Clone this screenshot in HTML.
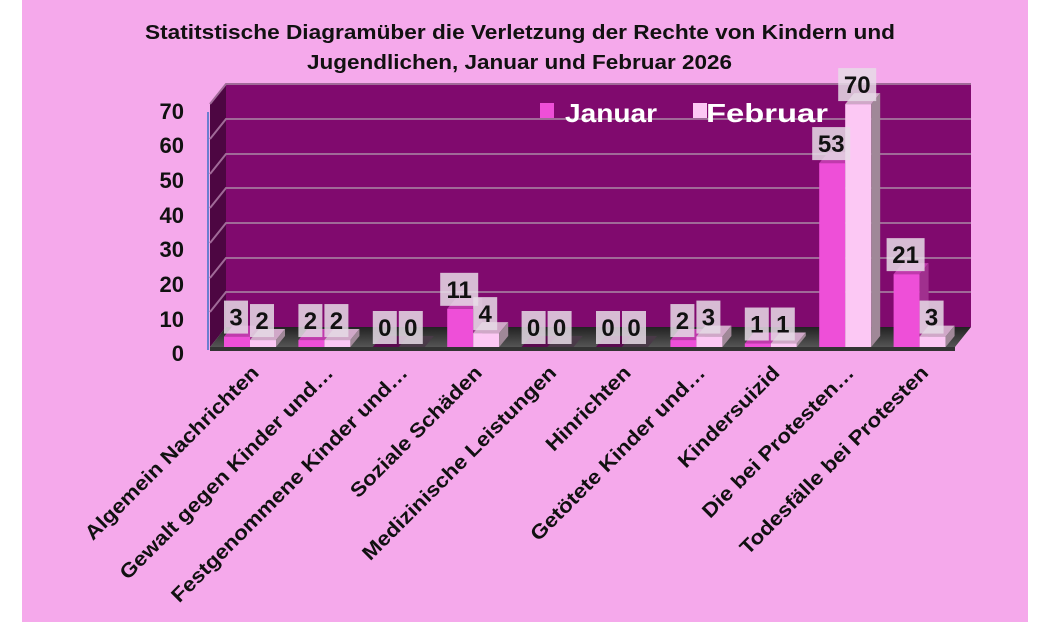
<!DOCTYPE html>
<html><head><meta charset="utf-8"><style>
html,body{margin:0;padding:0;background:#fff}
svg{display:block}
text{font-family:"Liberation Sans",sans-serif;font-weight:bold}
</style></head><body>
<svg width="1046" height="632" viewBox="0 0 1046 632">
<defs>
<linearGradient id="fl" x1="0" y1="0" x2="0" y2="1"><stop offset="0" stop-color="#222"/><stop offset="1" stop-color="#555"/></linearGradient>
</defs>
<rect x="0" y="0" width="1046" height="632" fill="#fff"/>
<rect x="22" y="0" width="1006" height="622" fill="#f5a9eb"/>
<text x="145" y="39" font-size="20" textLength="750" lengthAdjust="spacingAndGlyphs" fill="#111">Statitstische Diagramüber die Verletzung der Rechte von Kindern und</text>
<text x="307" y="69" font-size="20" textLength="425" lengthAdjust="spacingAndGlyphs" fill="#111">Jugendlichen, Januar und Februar 2026</text>
<!-- walls -->
<polygon points="226,84 971,84 971,327 226,327" fill="#800a6e"/>
<polygon points="210,104 226,84 226,327 210,347" fill="#4d0642"/>
<g stroke="#a06a98" stroke-width="2" fill="none">
<polyline points="210,312 226,292 971,292"/>
<polyline points="210,278 226,258 971,258"/>
<polyline points="210,243 226,223 971,223"/>
<polyline points="210,208 226,188 971,188"/>
<polyline points="210,174 226,154 971,154"/>
<polyline points="210,139 226,119 971,119"/>
<polyline points="210,104 226,84 971,84"/>
</g>
<line x1="208" y1="112" x2="208" y2="350" stroke="#6a7fd0" stroke-width="2"/>
<!-- floor -->
<polygon points="210,347 226,327 971,327 955,347" fill="url(#fl)"/>
<polygon points="210,347 955,347 955,351 210,351" fill="#333"/>
<!-- y labels -->
<g font-size="22" text-anchor="end" fill="#111">
<text x="184" y="361">0</text><text x="184" y="327">10</text><text x="184" y="292">20</text><text x="184" y="257">30</text><text x="184" y="223">40</text><text x="184" y="188">50</text><text x="184" y="153">60</text><text x="184" y="119">70</text>
</g>
<!-- legend -->
<rect x="540" y="103" width="14" height="15" fill="#ee4fd8"/>
<text x="565" y="122" font-size="26" textLength="92" lengthAdjust="spacingAndGlyphs" fill="#fff">Januar</text>
<rect x="693" y="103" width="14" height="15" fill="#fcc8f4"/>
<text x="706" y="122" font-size="26" textLength="122" lengthAdjust="spacingAndGlyphs" fill="#fff">Februar</text>
<g id="bars"></g>
<g id="labels"></g>
<g id="cats" font-size="20" fill="#111"></g>
</svg>
<script>
var jan=[3,2,0,11,0,0,2,1,53,21],feb=[2,2,0,4,0,0,3,1,70,3];
var cats=["Algemein Nachrichten","Gewalt gegen Kinder und…","Festgenommene Kinder und…","Soziale Schäden","Medizinische Leistungen","Hinrichten","Getötete Kinder und…","Kindersuizid","Die bei Protesten…","Todesfälle bei Protesten"];
var NS="http://www.w3.org/2000/svg",s=3.47,base=347,w=26,dx=9,dy=-11;
function el(p,t,a,txt){var e=document.createElementNS(NS,t);for(var k in a)e.setAttribute(k,a[k]);if(txt!=null)e.textContent=txt;p.appendChild(e);return e;}
var B=document.getElementById("bars"),L=document.getElementById("labels"),C=document.getElementById("cats");
function bar(x,v,front,top,side){var h=v*s,y=base-h;
 if(v==0){el(B,"polygon",{points:(x)+","+base+" "+(x+dx)+","+(base+dy)+" "+(x+w+dx)+","+(base+dy)+" "+(x+w)+","+base,fill:front=="#ee4fd8"?"#5a0a4e":"#4a3a48"});return y;}
 el(B,"rect",{x:x,y:y,width:w,height:h,fill:front});
 el(B,"polygon",{points:x+","+y+" "+(x+dx)+","+(y+dy)+" "+(x+w+dx)+","+(y+dy)+" "+(x+w)+","+y,fill:top});
 el(B,"polygon",{points:(x+w)+","+y+" "+(x+w+dx)+","+(y+dy)+" "+(x+w+dx)+","+(base+dy)+" "+(x+w)+","+base,fill:side});
 return y;}
function lab(cx,y,v){var t=String(v),bw=t.length>1?38:24;
 el(L,"rect",{x:cx-bw/2,y:y-36,width:bw,height:33,fill:"rgba(230,220,230,0.85)"});
 el(L,"text",{x:cx,y:y-11,"font-size":24,"text-anchor":"middle",fill:"#111"},t);}
for(var i=0;i<10;i++){var x=224+74.4*i;
 var yj=bar(x,jan[i],"#ee4fd8","#c03aac","#a0308e");
 var yf=bar(x+w,feb[i],"#fcc8f4","#d0a8c8","#a08898");
 lab(x+12,yj,jan[i]);lab(x+w+12,yf,feb[i]);
 el(C,"text",{x:0,y:0,"text-anchor":"end",transform:"translate("+(x+36)+",374) rotate(-45) scale(1.12,1)"},cats[i]);}
</script>
</body></html>
